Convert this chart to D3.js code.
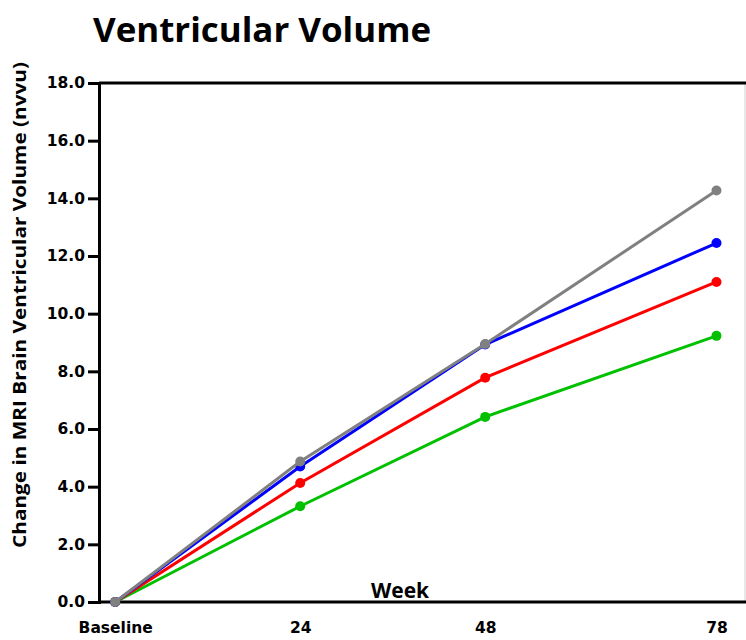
<!DOCTYPE html>
<html><head><meta charset="utf-8">
<script src="https://cdn.jsdelivr.net/npm/d3@7"></script>
<style>body{margin:0;background:#fff}svg{display:block}</style>
</head><body>
<svg id="c" width="746" height="640"></svg>
<script>
const weeks = [0, 24, 48, 78];
const xTickLabels = ["Baseline", "24", "48", "78"];
const yTicks = [0, 2, 4, 6, 8, 10, 12, 14, 16, 18];
const seriesNames = ["green", "red", "blue", "gray"];
const greenValues = [0, 3.32, 6.42, 9.23];
const redValues = [0, 4.13, 7.78, 11.1];
const blueValues = [0, 4.70, 8.93, 12.45];
const grayValues = [0, 4.87, 8.95, 14.27];
const seriesColors = ["#00c000", "#ff0000", "#0000ff", "#808080"];

const series = [greenValues, redValues, blueValues, grayValues].map((v, i) => ({name: seriesNames[i], color: seriesColors[i], values: v}));

const svg = d3.select("#c");
const L = 99, R = 745, T = 83, B = 602;
const x = d3.scaleLinear().domain([-2.1, 81.7]).range([L, R]);
const y = d3.scaleLinear().domain([0, 18]).range([B, T]);

// title
svg.append("text").attr("x", 93).attr("y", 42)
  .attr("font-family", "Open Sans").attr("font-weight", "bold").attr("font-size", 34)
  .attr("textLength", 338).attr("lengthAdjust", "spacingAndGlyphs")
  .text("Ventricular Volume");

// frame
svg.append("line").attr("x1", R).attr("x2", R).attr("y1", T).attr("y2", B).attr("stroke", "#d0d0d0").attr("stroke-width", 1);
svg.append("line").attr("x1", L).attr("x2", R+1).attr("y1", T).attr("y2", T).attr("stroke", "#000").attr("stroke-width", 3);

const tickFont = "DejaVu Sans";
// y axis
const yAxis = d3.axisLeft(y).tickValues(yTicks).tickFormat(d3.format(".1f")).tickSize(11).tickPadding(3);
const gy = svg.append("g").attr("transform", `translate(${L},0)`).call(yAxis);
gy.attr("font-size", null).attr("font-family", null);
gy.select(".domain").attr("stroke-width", 3);
gy.selectAll(".tick line").attr("stroke-width", 3);
gy.selectAll("text").style("font-family", tickFont).style("font-weight", "bold").style("font-size", "15.5px").attr("fill", "#000");

// x axis
const xAxis = d3.axisBottom(x).tickValues(weeks).tickFormat((d, i) => xTickLabels[i]).tickSize(0).tickPadding(20);
const gx = svg.append("g").attr("transform", `translate(0,${B})`).call(xAxis);
gx.attr("font-size", null).attr("font-family", null);
gx.select(".domain").attr("stroke-width", 3).attr("d", `M${L},0H${R+1}`);
gx.selectAll("text").style("font-family", tickFont).style("font-weight", "bold").style("font-size", "15.5px").attr("fill", "#000");

// axis titles
svg.append("text").attr("x", 400).attr("y", 598).attr("text-anchor", "middle")
  .attr("font-family", "Open Sans").attr("font-weight", "bold").attr("font-size", 21).text("Week");
svg.append("text").attr("transform", "translate(26,305) rotate(-90)").attr("text-anchor", "middle")
  .attr("font-family", "Open Sans").attr("font-weight", "bold").attr("font-size", 17)
  .attr("textLength", 486).attr("lengthAdjust", "spacingAndGlyphs")
  .text("Change in MRI Brain Ventricular Volume (nvvu)");

// lines
const line = d3.line().x((d, i) => x(weeks[i])).y(d => y(d));
const g = svg.append("g");
series.forEach(s => {
  const gs = g.append("g");
  gs.append("path").attr("d", line(s.values)).attr("fill", "none").attr("stroke", s.color).attr("stroke-width", 3);
  gs.selectAll("circle").data(s.values).join("circle")
    .attr("cx", (d, i) => x(weeks[i])).attr("cy", d => y(d)).attr("r", 5).attr("fill", s.color);
});
</script>
</body></html>
